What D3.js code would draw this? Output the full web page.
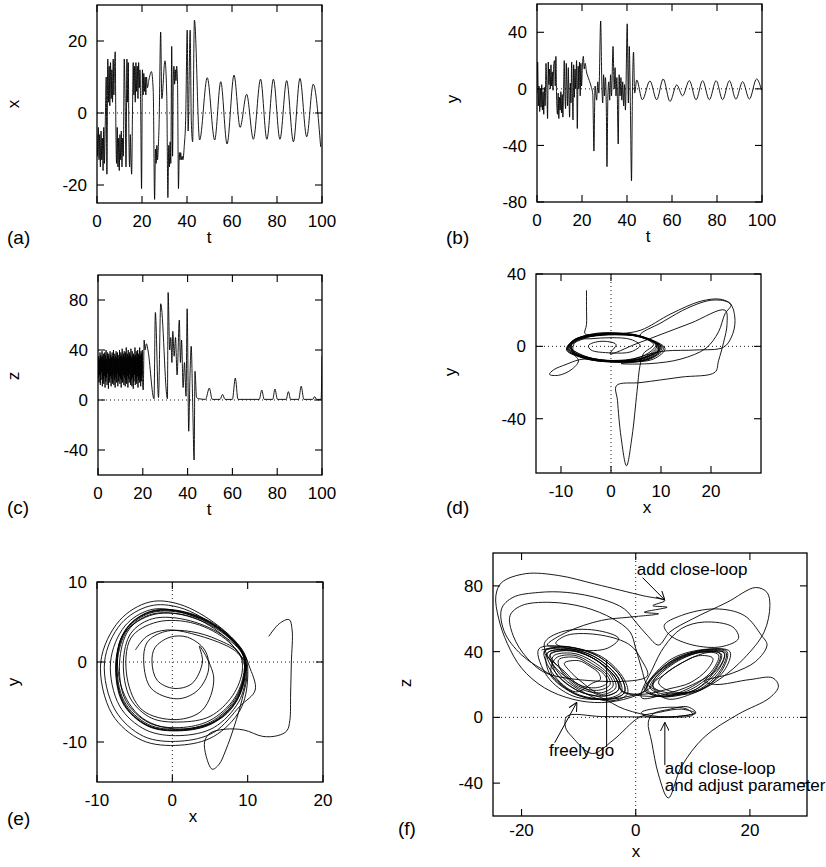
<!DOCTYPE html>
<html>
<head>
<meta charset="utf-8">
<script src="https://cdn.jsdelivr.net/npm/d3@7"></script>
<style>
  body { margin: 0; background: #fff; }
  svg { display: block; font-family: "Liberation Sans", Arial, Helvetica, sans-serif; }
  .zero { stroke: #000; stroke-width: 0.9; stroke-dasharray: 1 3; }
  .tick { stroke: #000; stroke-width: 1.1; }
  .frame { fill: none; stroke: #000; stroke-width: 1.3; }
  .trace { fill: none; stroke: #000; stroke-width: 0.9; stroke-linejoin: round; }
  .lbl { font-size: 17px; fill: #000; }
  .letter { font-size: 19px; fill: #000; }
</style>
</head>
<body>
<svg width="826" height="867"></svg>
<script>
// ---- data ----
// (a) x(t)
var seriesX = [[0,-6],[0.3,-12],[0.6,-4],[0.9,-13],[1.2,-6],[1.5,-15],[1.8,-5],[2.1,-13],[2.4,-7],[2.7,-16],[3.0,-4],[3.3,-14],[3.7,-2],[4.1,10],[4.4,-17],[4.8,15],
  [5.1,3],[5.4,13],[5.7,2],[6.0,14],[6.3,4],[6.6,12],[6.9,3],[7.2,15],[7.5,5],[7.8,13],[8.1,17],
  [8.4,-5],[8.7,-14],[9.0,-4],[9.3,-15],[9.6,-7],[9.9,-16],[10.2,-6],[10.5,-13],[10.8,-5],[11.1,-15],[11.4,-7],[11.7,-12],
  [12.1,15],[12.5,4],[12.9,-15],[13.3,15],[13.6,3],[13.9,14],[14.2,-8],[14.5,-15],[14.8,-6],[15.1,-13],[15.4,-17],[15.8,2],
  [16.1,14],[16.4,5],[16.7,13],[17.0,3],[17.3,14],[17.6,6],[17.9,13],[18.2,4],[18.5,14],[18.8,7],[19.1,12],[19.4,2],[19.8,-21],
  [20.2,12],[20.5,5],[20.8,11],[21.1,6],[21.4,10],[21.7,5],[22.0,10],[22.4,7],[23.0,9],[24.2,11.5],[25.0,6],[25.6,-24],
  [26.0,-10],[26.3,-14],[26.6,-9],[26.9,-13],[27.2,-10],[27.6,-3],[28.3,22.5],[28.8,4],[30.2,14.5],[31.0,5],[31.5,-23.5],
  [31.9,-9],[32.2,-15],[32.5,-8],[32.8,-14],[33.2,18.5],[33.6,-12],[33.9,9],[34.2,13],[34.5,8],[34.8,12],[35.1,9],[35.4,13],[35.8,8],[36.2,-21],
  [36.6,-11],[36.9,-13],[37.2,-11],[37.5,-13],[37.8,-12],[38.2,-13],[38.8,-9],[39.4,-2],[40.1,23],[40.5,-5],[41.4,23],[41.9,-2],[42.5,-8],[43.3,25.8],
  [45.6,-7.5],[49,9.8],[52.3,-7.5],[55,8.7],[57.8,-8.6],[60.9,10.5],[63.6,-4],[66.5,5.2],[69.5,-7.3],[72.7,9.4],[75.5,-7.3],[78.4,9.4],
  [81.3,-7.3],[84.3,9],[87.3,-8],[90.2,9.6],[93.2,-6.6],[96.1,8],[99.4,-9.4]];

// (b) y(t)
var seriesY = [[0,-3],[0.3,19],[0.6,-12],[0.9,2],[1.2,-16],[1.5,0],[1.8,-13],[2.1,3],[2.4,-15],[2.7,-2],[3.0,-18],[3.3,1],[3.6,-12],[4.0,18],[4.4,-2],[4.7,-21],
  [5.0,19],[5.3,3],[5.6,14],[5.9,0],[6.2,17],[6.5,2],[6.8,12],[7.1,-1],[7.4,16],[7.8,20],[8.1,2],[8.4,23],[8.7,-5],[9.1,-18],[9.4,-3],[9.7,-21],
  [10.0,-6],[10.3,-15],[10.6,-2],[10.9,-17],[11.2,-4],[11.5,-20],[11.8,-1],[12.1,20],[12.4,-3],[12.7,-14],[13.0,18],[13.3,2],[13.6,-12],[13.9,15],
  [14.2,-5],[14.5,-20],[14.8,4],[15.1,-10],[15.4,19],[15.7,-2],[16.0,-22],[16.3,17],[16.6,-6],[16.9,14],[17.2,0],[17.6,20],[17.9,-28],[18.3,16],
  [18.6,0],[18.9,19],[19.2,-5],[19.5,18],[19.8,2],[20.2,17],[20.6,23],[21.0,14],[21.4,18],[22,12],[23,7],[24,2],[24.8,-4],[25.3,-44],[25.8,2],
  [26.5,-8],[27,5],[27.5,-3],[28.3,48],[28.8,5],[29.2,-10],[29.6,10],[30,-5],[30.4,8],[30.8,-12],[31.1,-55],[31.5,-5],[31.9,5],[32.3,-8],[32.7,10],
  [33.1,-5],[33.8,30],[34.3,0],[34.7,15],[35.1,-5],[35.5,8],[36.1,-39],[36.5,10],[36.9,-5],[37.3,8],[37.7,-8],[38.1,5],[38.5,-12],[38.9,3],[39.3,-15],
  [40.1,46],[40.6,-10],[41,30],[41.5,-12],[42,-65],[42.4,-5],[42.9,26],[43.4,-3],
  [44.3,6.3],[46.8,-7.7],[50.2,5.6],[53.2,-7.7],[56.1,7],[59.1,-8.9],[62.1,2.8],[64.7,-4.9],[67.7,5.8],[70.7,-7.7],[73.6,5.8],[76.6,-7.7],
  [79.6,5.8],[82.5,-7.7],[85.5,5.8],[88.4,-7.3],[91.4,5.1],[94.4,-7.3],[97.6,7],[99.8,-1]];

// (c) z(t)
var seriesZ = [[0,30],[0.15,18],[0.3,35],[0.45,14],[0.6,33],[0.75,20],[0.9,38],[1.05,12],[1.2,36],[1.35,16],[1.5,34],[1.65,22],[1.8,39],[1.95,11],
  [2.1,35],[2.25,17],[2.4,37],[2.55,13],[2.7,32],[2.85,19],[3.0,38],[3.15,10],[3.3,36],[3.45,15],[3.6,40],[3.75,18],[3.9,33],[4.05,12],[4.2,38],
  [4.35,21],[4.5,35],[4.65,9],[4.8,37],[4.95,16],[5.1,33],[5.25,14],[5.4,39],[5.55,19],[5.7,36],[5.85,11],[6.0,34],[6.15,17],[6.3,38],[6.45,13],
  [6.6,35],[6.75,20],[6.9,40],[7.05,12],[7.2,33],[7.35,16],[7.5,37],[7.65,10],[7.8,35],[7.95,18],[8.1,39],[8.25,14],[8.4,34],[8.55,21],[8.7,38],
  [8.85,11],[9.0,36],[9.15,15],[9.3,33],[9.45,19],[9.6,40],[9.75,13],[9.9,35],[10.05,17],[10.2,38],[10.35,10],[10.5,36],[10.65,16],[10.8,41],
  [10.95,14],[11.1,34],[11.25,20],[11.4,37],[11.55,12],[11.7,39],[11.85,18],[12.0,35],[12.15,11],[12.3,38],[12.45,16],[12.6,42],[12.75,13],
  [12.9,34],[13.05,19],[13.2,37],[13.35,10],[13.5,40],[13.65,17],[13.8,35],[13.95,14],[14.1,38],[14.25,21],[14.4,36],[14.55,12],[14.7,41],
  [14.85,16],[15.0,34],[15.15,11],[15.3,39],[15.45,18],[15.6,36],[15.75,9],[15.9,37],[16.05,15],[16.2,35],[16.35,20],[16.5,42],[16.65,12],
  [16.8,36],[16.95,17],[17.1,39],[17.25,13],[17.4,34],[17.55,19],[17.7,40],[17.85,10],[18.0,37],[18.15,16],[18.3,35],[18.45,14],[18.6,42],
  [18.75,18],[18.9,36],[19.05,11],[19.2,39],[19.35,15],[19.5,37],[19.65,20],[19.8,40],[19.95,12],[20.2,8],[20.6,48],
  [21,40],[21.6,45],[22.3,40],[25,1],[25.6,70],[27,2],[28,77],[31,1],[31.3,86],[32,40],[32.5,50],[33,30],[33.4,55],[34,35],[34.6,50],
  [35.3,20],[36.3,64],[36.8,30],[37.3,48],[38,10],[38.6,30],[39.3,3],[39.8,73],[40.5,-25],[41,15],[41.6,43],[42.3,-5],[42.9,-48],[43.3,23],
  [44,2],[45,1],[48,0.5],[49.7,9.5],[51,0.5],[54.5,0.5],[55.6,4.5],[56.7,0.5],[60,0.5],[61.3,17.5],[62.5,0.5],[72,0.5],[73.1,8],[74.2,0.5],
  [78,0.5],[79,8.8],[80.1,0.5],[84,0.5],[85,6.7],[86,0.5],[89.6,0.5],[90.7,11],[91.9,0.5],[95.8,0.5],[96.7,2.7],[97.6,0.5],[99.6,0.5],[100,35]];

// (d) y against x
var phaseD = [[-4.9,31],[-4.9,22],[-4.9,12],[-5.2,7],
  [-3,6.5],[2,7],[6,5.5],[9.5,0],[7,-6],[1,-8.3],[-5,-6],[-8.5,-1],[-7,3.5],
  [-3,6],[2,6.5],[6.5,5],[10,-0.5],[7.5,-6.5],[1.5,-8.5],[-5,-6.5],[-8.8,-1.5],[-7.5,3.5],
  [-3,6.8],[2,7.2],[6.2,5.2],[9.2,0.5],[7,-5.5],[1,-8],[-4.8,-5.8],[-8,-0.5],[-6.8,4],
  [-2.5,6.3],[2.5,6.8],[6.8,4.5],[10.5,-1],[8,-6.8],[2,-8.7],[-4.5,-7],
  [-6.5,-7.5],[-9,-10],[-11.5,-13],[-12.3,-15.5],[-10.5,-16],[-8,-13],[-6.5,-8],[-7.8,-3],
  [-7.6,3],[-3,5.8],[2,6.3],[6,5.2],[9.8,-0.3],[7.5,-6],[1.2,-8.2],[-5,-6.2],[-8.6,-1.2],[-7.2,3.8],
  [-2,6.6],[3,6.6],[7,4.8],[10.8,-1.2],[8.5,-7],[2,-8.6],[-4.5,-7.2],[-8.9,-2],[-7.5,3.2],
  [-3.5,7],[1.5,7.4],[5.8,5.8],[9,1],[6.5,-5.2],[0.5,-7.8],[-5.2,-5.6],[-8.2,-0.2],[-6.5,4.5],
  [-2.8,6.9],[2.2,6.9],[6.6,4.9],[10.2,-0.8],[7.8,-6.6],[1.8,-8.8],[-4.8,-6.8],[-8.7,-1.8],[-7.3,3.4],
  [-4,4.2],[0,4.8],[4,3.8],[5.8,0.5],[4,-3],[0,-3.6],[-4,-2],[-4.5,0.5],[-2,2.8],[1,1],[-0.2,-4.1],
  [5,1.35],[10,6.6],[16,12.9],[22.8,20],[23.2,12],[22.5,2],[21.5,-8],[20.8,-14.3],[14,-17],[6,-20],[1.1,-21.7],
  [1.3,-30],[2,-50],[3.1,-66],[4.2,-50],[5.2,-25],[5.8,-10.6],[6.5,-4],
  [8.5,1],[6,5],[1,6.8],[-4,6],[-8.2,0],[-6,-5.5],[0,-8],[6,-6.8],[9.5,-2],[9,2],
  [5.8,6.1],[10,13],[15.8,21.8],[20.5,25.6],[23.8,23.7],[24.8,14.4],[24.1,5.2],[22.5,-0.5],[17,-2],[11,-2.5],[8,-4],
  [3,-7.8],[-3,-7],[-7.5,-3],[-7,3],[-2,6.5],[4,6.2],[8.5,2],[9.6,-3],[7,-7.5],
  [2,-9.5],[8,-9.5],[14,-7],[19,-1],[21.5,8],[22.8,18],[24,23],[22,26],[18,25],[12,18],[6,9],[2,7],
  [-4,5.5],[-8.3,-0.5],[-6,-6],[0,-8.4],[6.5,-6.5],[9.8,-1],[6.5,5],[0,6.8],[-5.5,5]];

// (e) y against x, controlled
var phaseE = [[12.8,3.2],[14.2,4.8],[15.5,5.3],[15.9,4],[15.8,0],[15.7,-4],[15.6,-7.3],[15.2,-8.6],[14,-9.2],[12,-9.3],[9.5,-8.5],[7,-8.4],
  [5,-8.9],[4.3,-9.9],[4.5,-11.8],[5.3,-13.4],[6.2,-12.8],[7.1,-11],[8.2,-8.1],[9.3,-4.5],[9.9,-1.5],[9.2,1.5],
  [6,4.6],[1,7.2],[-3,7.5],[-7,5.2],[-9.5,0],[-8,-6.5],[-4,-9.8],[1,-10.4],[5.5,-9.3],[9,-6],[10,-2],[9.5,1.2],
  [6,4.3],[1,6.8],[-3,7],[-6.8,4.8],[-9,0],[-7.6,-6],[-3.8,-9.3],[1,-9.9],[5.5,-8.8],[9,-5.5],[11,-3.5],[10.2,-0.5],[9.5,1],
  [6,4.2],[0.5,6.4],[-3,6.5],[-6.3,4.5],[-8.2,0],[-7,-5.5],[-3.5,-8.5],[1,-9.2],[5.5,-8.2],[8.8,-5],[9.8,-1.5],[9.5,1],
  [6,4.4],[1,6.3],[-3,6.2],[-6,4.2],[-7.4,0],[-6.5,-5],[-3.3,-7.9],[1,-8.5],[5.2,-7.6],[8.4,-4.8],[9.6,-1.2],[9.4,1],
  [6,4.5],[1,6.4],[-3,6.3],[-6.1,4.2],[-7.5,0],[-6.6,-5.1],[-3.3,-8],[1,-8.6],[5.3,-7.7],[8.5,-4.9],[9.7,-1.1],[9.4,1],
  [6,4.3],[1,6.2],[-3,6.1],[-5.9,4.1],[-7.3,0],[-6.4,-4.9],[-3.2,-7.8],[1,-8.4],[5.1,-7.5],[8.3,-4.7],[9.6,-1.2],[9.3,1],
  [5.9,4.4],[1,6.35],[-3,6.25],[-6.05,4.2],[-7.45,0],[-6.55,-5.05],[-3.3,-7.95],[1,-8.55],[5.25,-7.65],[8.45,-4.85],[9.65,-1.15],[9.4,1],
  [5.8,4.2],[0.8,6],[-3,5.9],[-5.8,4],[-7,0],[-6.2,-4.8],[-3.1,-7.6],[1,-8.2],[5,-7.3],[8.2,-4.6],[9.5,-1.3],[9.3,1],
  [5.5,4],[0.5,5.5],[-3,5.3],[-5.5,3.6],[-6.5,0],[-5.6,-4.5],[-2.8,-7],[1,-7.5],[5,-6.8],[8,-4.2],[9.3,-1],[8.8,1.2],
  [6,2.8],[2.5,3.8],[-1,3.8],[-3.3,2.5],[-3.8,0],[-2.8,-3.3],[0.6,-4.6],[3.3,-3.6],[4.8,-1],[4.3,1.5],[2,3.1],[-0.3,3.1],[-2.3,1.8],
  [-2.7,0],[-2,-2.3],[0.2,-3.3],[2.6,-2.7],[4,0],[3.6,2],[5.5,-2],[4,-6],[0.5,-7.2],[-4,-6],[-6,-2],[-5.5,3],[-2,5],[3,4.8],[7.5,2.5],
  [9.6,-0.5],[9,-4],[6.5,-7],[1,-8.4],[-4,-7],[-6.8,-3],[-6.8,3],[-3,5.8],[2,5.8],[6.5,3.5],[9.7,0],
  [8.2,1.5],[3.7,3.25],[-0.7,4],[-3.4,3.2],[-4.9,1.5]];

// (f) z against x
var phaseF = [[-16.5,41],[-12,43],[-6.5,37],[-2.5,24],[-2,15],[-5,11],[-10.5,14],[-15,26],
  [-15.5,39],[-11.5,41],[-7,35],[-3.5,24],[-3,17],[-5.5,13],[-10,16],[-14,27],
  [-14.5,37],[-11,39],[-7.5,34],[-4.5,25],[-4,19],[-6,15],[-10,18],[-13,28],
  [-13.5,35],[-10.5,36.5],[-8,32],[-5.5,26],[-5,21],[-7,18],[-10,20],[-12.5,28],
  [-16,40],[-12,42],[-6.8,36],[-3,23.5],[-2.5,15.5],[-5.2,11.5],[-10.5,14.5],[-14.8,26.5],
  [-14,36],[-10.8,37.8],[-7.8,33],[-5,25.5],[-4.5,20],[-6.5,16.5],[-10,19],[-12.8,28],
  [-15,38.5],[-11.5,40.5],[-7,35],[-3.5,24],[-2.5,16],[0,13.5],[5,13],
  [10.5,17],[14.5,29],[15.5,39],[12,40.5],[7,35],[3,24],[2,17],[5,13],
  [10,19],[13.5,29],[14.5,38],[11.5,39.5],[7.5,34.5],[4,25],[3,19],[5.5,15],
  [10.8,16.5],[14.8,28.5],[15.8,39.5],[12.2,41],[6.8,35.5],[2.8,23.5],[1.8,16.5],[4.8,12.5],
  [10.2,18],[13.8,29],[14.8,38.5],[11.8,40],[7.2,35],[3.5,24.5],[2.5,18],[5.2,14],
  [11,16],[15,28],[16,40],[12.5,41.5],[6.5,36],[2.5,23],[1.5,16],[-1,13],[-5,11],
  [-11,13],[-15.5,25],[-17,41.5],[-12.5,43],[-6,37],[-2,23],[-1.5,14],[-5,10],
  [-10,17],[-13.5,27],[-15,38],[-11,40.5],[-7,35],[-4,24.5],[-3.5,18],[-6,14],
  [-9.8,22.5],[-11.5,28],[-12.5,33],[-10,34.5],[-8,31],[-6.5,27],[-6.2,23],[-7.5,21],
  [-10.5,15.5],[-14.5,26.5],[-16,40.5],[-12,42],[-7,36.5],[-3,24],[-2.5,16.5],
  [1,14],[6,17.5],[9.5,21],[12.5,29],[13.5,36],[11,37.5],[8,33],[5,26],[4,21],
  [6,16],[11,16.5],[15.5,28.5],[16.5,40],[13,41.5],[7,35.5],[2.5,23],[1.5,16.5],[5,12.5],
  [10.5,17],[14,29],[15,38.5],[12,40],[7.5,35],[3.5,24.5],[2.5,18],[-1,12],[-6,9],
  [-11,11],[-16,18],[-20,30],[-22.5,45],[-24,60],[-24.5,74],[-23.5,82],[-19.3,87.4],[-13.5,86.3],[-7,81],[1.3,74],[5.1,71],
  [3,68],[5.5,67],[1.5,64],[4,63],[-1,61],[-6,59],[-12,52],[-15.5,44],
  [-12,43],[-6.5,37],[-2.5,24],[-2,15],[-5,11],[-10.5,14],[-15,26],
  [-20,38],[-23,52],[-23.5,66],[-21.5,73],[-17,76],[-12,76],[-6,72],[-2,66],[0,58],[2,50],[4,44],
  [6,52],[10,60],[16,70],[21,79],[23,76],[23.5,68],[22.5,52],[19,36],[15,24],[11,16],[6,11],
  [4,14],[3,20],[5,26],[8,33],[12,39],[15.5,39.5],[14.5,30],[10,20],[5,14],[1,12],
  [3,30],[5,43],[8,54],[12,58],[17,55],[18,48],[15,43],[10,44],[6,50],[5,56],[8,62],[14,66],[19,62],[22,50],[23,44],[21,34],[17,27],[12,22],
  [14,20],[20,23],[24,24],[25,19],[23.5,12],[18,2],[12,-12],[8,-30],[5.7,-49],[4,-35],[2.8,-15],[2.2,-3],[3,2],
  [6,5],[9,6.5],[10.5,3],[8,0.8],[4,0.3],[0,0.3],[-6,0.5],[-12,0.8],
  [-12.3,-6],[-11.1,-12],[-7.6,-22],[-4,-14],[0.7,0.2],[4,3],[8,5],[10.5,2.5],[7,0.5],[2,0.5],[1,3],[5,6],[9,5],[10,1.5],[4,0.5],
  [-2,5],[-6,12],[-10,16],[-14,27],[-15.5,39],[-11.5,41],[-7,35],[-3.5,24],[-3,17],[-5.5,13],
  [-10,20],[-14,30],[-16,45],[-13,52],[-7,53],[-3,48],[-5,42],[-10,41],[-14,45],[-12,50],[-6,50],[-1,44],[1,35],[2,25],
  [-15,26],[-19,36],[-21.5,50],[-22,62],[-20,68],[-15,70],[-9,67],[-4,60],[-1,52],[0,42],[1,30],[2,20],[4,16]];

// annotations in (f): [x, z] in data units
var annoText = [
  { text: "add close-loop", at: [0.2, 86.5] },
  { text: "freely go", at: [-15.2, -23.4] },
  { text: "add close-loop", at: [5.1, -34.3] },
  { text: "and adjust parameter", at: [5.1, -44.8] }
];
var annoArrows = [
  { from: [1.2, 85], to: [5.1, 71.4], head: true },
  { from: [-14.2, -15.4], to: [-10.3, 9.2], head: true },
  { from: [-5.1, -18], to: [-5.1, 35], head: false },
  { from: [5.1, -29], to: [5.1, -3], head: true }
];

var tTicks = [0, 20, 40, 60, 80, 100];

// ---- drawing ----
var svg = d3.select("svg");
var TICK = 7;

svg.append("defs").append("marker")
  .attr("id", "arrow")
  .attr("viewBox", "0 0 10 10")
  .attr("refX", 10).attr("refY", 5)
  .attr("markerWidth", 9).attr("markerHeight", 9)
  .attr("markerUnits", "userSpaceOnUse")
  .attr("orient", "auto")
  .append("path")
  .attr("d", "M0,0L10,5L0,10")
  .attr("fill", "none").attr("stroke", "#000").attr("stroke-width", 1.1);

function panel(p) {
  var x = d3.scaleLinear().domain(p.xDomain).range([p.l, p.r]);
  var y = d3.scaleLinear().domain(p.yDomain).range([p.b, p.t]);
  var g = svg.append("g");
  var clipId = "clip-" + p.id;
  svg.select("defs").append("clipPath").attr("id", clipId)
    .append("rect")
    .attr("x", p.l).attr("y", p.t)
    .attr("width", p.r - p.l).attr("height", p.b - p.t);

  g.append("line").attr("class", "zero")
    .attr("x1", p.l).attr("x2", p.r).attr("y1", y(0)).attr("y2", y(0));
  if (p.vZero) {
    g.append("line").attr("class", "zero")
      .attr("x1", x(0)).attr("x2", x(0)).attr("y1", p.t).attr("y2", p.b);
  }

  var plot = g.append("g").attr("clip-path", "url(#" + clipId + ")");
  var xLab = p.xLabelGap || 24, xTit = p.xTitleGap || 40;

  p.xTicks.forEach(function (v) {
    g.append("line").attr("class", "tick")
      .attr("x1", x(v)).attr("x2", x(v)).attr("y1", p.b).attr("y2", p.b - TICK);
    g.append("line").attr("class", "tick")
      .attr("x1", x(v)).attr("x2", x(v)).attr("y1", p.t).attr("y2", p.t + TICK);
    g.append("text").attr("class", "lbl")
      .attr("x", x(v)).attr("y", p.b + xLab)
      .attr("text-anchor", "middle").text(String(v));
  });
  p.yTicks.forEach(function (v) {
    g.append("line").attr("class", "tick")
      .attr("x1", p.l).attr("x2", p.l + TICK).attr("y1", y(v)).attr("y2", y(v));
    g.append("line").attr("class", "tick")
      .attr("x1", p.r).attr("x2", p.r - TICK).attr("y1", y(v)).attr("y2", y(v));
    g.append("text").attr("class", "lbl")
      .attr("x", p.l - 10).attr("y", y(v)).attr("dy", "0.36em")
      .attr("text-anchor", "end").text(String(v));
  });

  g.append("text").attr("class", "lbl")
    .attr("x", p.xTitleX).attr("y", p.b + xTit)
    .attr("text-anchor", "middle").text(p.xTitle);
  g.append("text").attr("class", "lbl")
    .attr("transform", "translate(" + p.yTitleAt[0] + "," + p.yTitleAt[1] + ") rotate(-90)")
    .attr("text-anchor", "middle").attr("dy", "0.35em").text(p.yTitle);
  g.append("text").attr("class", "letter")
    .attr("x", p.letterAt[0]).attr("y", p.letterAt[1]).text(p.letter);

  return { x: x, y: y, g: g, plot: plot, frame: function () {
    g.append("rect").attr("class", "frame")
      .attr("x", p.l).attr("y", p.t).attr("width", p.r - p.l).attr("height", p.b - p.t);
  } };
}

function timeSeries(P, data) {
  var line = d3.line()
    .x(function (d) { return P.x(d[0]); })
    .y(function (d) { return P.y(d[1]); })
    .curve(d3.curveMonotoneX);
  P.plot.append("path").attr("class", "trace").attr("d", line(data));
  P.frame();
}

function phase(P, data) {
  var line = d3.line()
    .x(function (d) { return P.x(d[0]); })
    .y(function (d) { return P.y(d[1]); })
    .curve(d3.curveCatmullRom.alpha(0.5));
  P.plot.append("path").attr("class", "trace").attr("d", line(data));
  P.frame();
}

var pa = panel({ id: "a", l: 97, r: 322, t: 5, b: 203, xDomain: [0, 100], yDomain: [-25, 30],
  xTicks: tTicks, yTicks: [-20, 0, 20], xTitle: "t", xTitleX: 209, yTitle: "x", yTitleAt: [13, 104],
  letter: "(a)", letterAt: [7, 244] });
timeSeries(pa, seriesX);

var pb = panel({ id: "b", l: 537, r: 762, t: 4, b: 202, xDomain: [0, 100], yDomain: [-80, 60],
  xTicks: tTicks, yTicks: [-80, -40, 0, 40], xTitle: "t", xTitleX: 648, yTitle: "y", yTitleAt: [452, 99],
  letter: "(b)", letterAt: [446, 244] });
timeSeries(pb, seriesY);

var pc = panel({ id: "c", l: 98, r: 322, t: 275, b: 475, xDomain: [0, 100], yDomain: [-60, 100],
  xTicks: tTicks, yTicks: [-40, 0, 40, 80], xTitle: "t", xTitleX: 209, yTitle: "z", yTitleAt: [13, 376],
  letter: "(c)", letterAt: [7, 514] });
timeSeries(pc, seriesZ);

var pd = panel({ id: "d", l: 536, r: 761, t: 274, b: 473, xDomain: [-15, 30], yDomain: [-70, 40], vZero: true,
  xTicks: [-10, 0, 10, 20], yTicks: [-40, 0, 40], xTitle: "x", xTitleX: 647, yTitle: "y", yTitleAt: [450, 372],
  letter: "(d)", letterAt: [446, 514] });
phase(pd, phaseD);

var pe = panel({ id: "e", l: 97, r: 323, t: 582, b: 782, xDomain: [-10, 20], yDomain: [-15, 10], vZero: true,
  xTicks: [-10, 0, 10, 20], yTicks: [-10, 0, 10], xTitle: "x", xTitleX: 193, yTitle: "y", yTitleAt: [13, 682],
  letter: "(e)", letterAt: [7, 825] });
phase(pe, phaseE);

var pf = panel({ id: "f", l: 493, r: 807, t: 553, b: 816, xDomain: [-25, 30], yDomain: [-60, 100], vZero: true,
  xTicks: [-20, 0, 20], yTicks: [-40, 0, 40, 80], xTitle: "x", xTitleX: 636, yTitle: "z", yTitleAt: [405, 683],
  letter: "(f)", letterAt: [398, 835], xLabelGap: 20, xTitleGap: 41 });
phase(pf, phaseF);

annoArrows.forEach(function (a) {
  pf.g.append("line")
    .attr("x1", pf.x(a.from[0])).attr("y1", pf.y(a.from[1]))
    .attr("x2", pf.x(a.to[0])).attr("y2", pf.y(a.to[1]))
    .attr("stroke", "#000").attr("stroke-width", 1)
    .attr("marker-end", a.head ? "url(#arrow)" : null);
});
annoText.forEach(function (a) {
  pf.g.append("text").attr("class", "lbl")
    .attr("x", pf.x(a.at[0])).attr("y", pf.y(a.at[1]))
    .text(a.text);
});
</script>
</body>
</html>
